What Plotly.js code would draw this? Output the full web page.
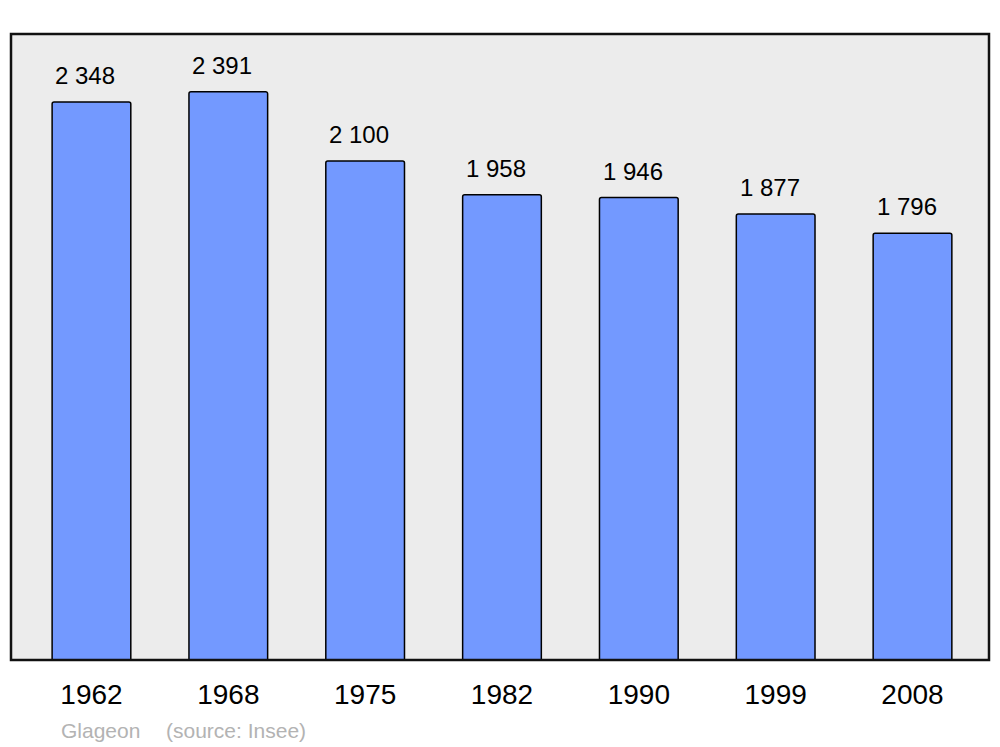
<!DOCTYPE html>
<html>
<head>
<meta charset="utf-8">
<script src="https://cdn.plot.ly/plotly-3.0.1.min.js"></script>
<style>html,body{margin:0;padding:0;background:#fff;}#chart{width:1000px;height:747px;}</style>
</head>
<body>
<div id="chart"></div>
<script>
const years = ["1962", "1968", "1975", "1982", "1990", "1999", "2008"];
const population = [2348, 2391, 2100, 1958, 1946, 1877, 1796];
const commune = "Glageon";
const source = "(source: Insee)";

function fmt(v) {
  return String(v).replace(/\B(?=(\d{3})+(?!\d))/g, " ");
}

const idx = years.map((_, i) => i);

const trace = {
  type: "bar",
  x: idx,
  y: population,
  width: 0.575,
  marker: {color: "#7399ff", line: {color: "#000", width: 1.5}, cornerradius: 2},
  hoverinfo: "skip"
};

const annotations = idx.map(i => ({
  x: i, y: population[i], xref: "x", yref: "y",
  text: fmt(population[i]), showarrow: false,
  xanchor: "center", yanchor: "bottom", yshift: 11, xshift: -6,
  font: {family: "Liberation Sans, Arial, sans-serif", size: 24, color: "#000"}
}));
annotations.push({
  xref: "paper", yref: "paper", x: 48/978, y: -0.091, xanchor: "left", yanchor: "top",
  text: commune, showarrow: false,
  font: {family: "Liberation Sans, Arial, sans-serif", size: 21, color: "#b3b3b3"}
});
annotations.push({
  xref: "paper", yref: "paper", x: 153/978, y: -0.091, xanchor: "left", yanchor: "top",
  text: source, showarrow: false,
  font: {family: "Liberation Sans, Arial, sans-serif", size: 21, color: "#b3b3b3"}
});

const layout = {
  width: 1000, height: 747,
  margin: {l: 11, r: 11, t: 34, b: 87, pad: 0},
  paper_bgcolor: "#ffffff",
  plot_bgcolor: "#ececec",
  showlegend: false,
  xaxis: {
    type: "linear",
    range: [-0.588, 6.559],
    tickmode: "array", tickvals: idx, ticktext: years,
    showgrid: false, zeroline: false, showline: false,
    ticks: "", ticklabelstandoff: 15,
    tickfont: {family: "Liberation Sans, Arial, sans-serif", size: 28, color: "#000"},
    fixedrange: true
  },
  yaxis: {
    range: [0, 2634],
    showgrid: false, zeroline: false, showline: false,
    showticklabels: false, ticks: "",
    fixedrange: true
  },
  shapes: [{
    type: "rect", xref: "paper", yref: "paper", x0: 0, x1: 1, y0: 0, y1: 1,
    line: {color: "#111", width: 2.5}, layer: "above"
  }],
  annotations: annotations
};

Plotly.newPlot("chart", [trace], layout, {displayModeBar: false, staticPlot: true});
</script>
</body>
</html>
